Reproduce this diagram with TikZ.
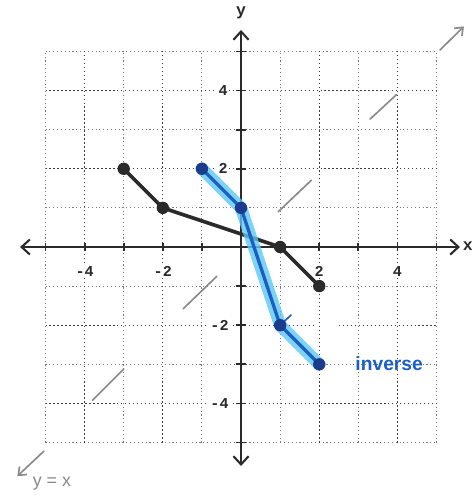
\documentclass[tikz,border=0pt]{standalone}
\usepackage{fontspec}
\setmainfont{Liberation Sans}
\newfontfamily\tickfont{Liberation Mono}
\usetikzlibrary{arrows.meta}
\definecolor{axiscol}{HTML}{2A2A2A}
\definecolor{gridmajor}{HTML}{3A3A3A}
\definecolor{gridminor}{HTML}{7A7A7A}
\definecolor{glow}{HTML}{5CC8F2}
\definecolor{invblue}{HTML}{1B5FC4}
\definecolor{invdot}{HTML}{1B3C8C}
\definecolor{refgray}{HTML}{8A8A8A}
\tikzset{
  majorgrid/.style={gridmajor, line width=0.9pt, dotted},
  minorgrid/.style={gridminor, line width=0.8pt, dotted},
  axisline/.style={axiscol, line width=1.5pt, -{Straight Barb[length=6pt,width=11pt,line width=1.5pt]}},
  ticklab/.style={font=\tickfont\bfseries\fontsize{11}{11}\selectfont, text=axiscol, fill=white, inner sep=0.8pt},
  refline/.style={refgray, line width=1.2pt, line cap=round},
  refarrow/.style={refgray, line width=1.2pt, line cap=round, -{Straight Barb[length=5pt,width=8pt,line width=1.2pt]}},
  origline/.style={axiscol, line width=2.6pt, line cap=round, line join=round},
  origdot/.style={circle, fill=axiscol, inner sep=0pt, minimum size=9pt},
  glowline/.style={glow, opacity=0.8, line width=9pt, line cap=round, line join=round},
  invline/.style={invblue, line width=2.4pt, line cap=round, line join=round},
  invdotst/.style={circle, fill=invdot, inner sep=0pt, minimum size=9pt},
}
\begin{document}
\begin{tikzpicture}[x=1cm,y=1cm]
\useasboundingbox[fill=white] (-6.164,-6.368) rectangle (5.959,6.317);
% grid
\foreach \k in {-5,-3,-1,1,3,5}{
  \draw[minorgrid] (\k,-5) -- (\k,5);
  \draw[minorgrid] (-5,\k) -- (5,\k);
}
\foreach \k in {-4,-2,2,4}{
  \draw[majorgrid] (\k,-5) -- (\k,5);
}
\foreach \k in {-4,2,4}{
  \draw[majorgrid] (-5,\k) -- (5,\k);
}
\draw[majorgrid] (-5,-2) -- (1.85,-2);
\draw[majorgrid] (2.5,-2) -- (5,-2);
% axes
\coordinate (xl) at (-5.65,0);
\coordinate (xr) at (5.6,0);
\coordinate (yb) at (0,-5.6);
\coordinate (yt) at (0,5.55);
\draw[axisline] (0,0) -- (xl);
\draw[axisline] (0,0) -- (xr);
\draw[axisline] (0,0) -- (yb);
\draw[axisline] (0,0) -- (yt);
\foreach \k in {-5,...,5}{
  \draw[axiscol, line width=1.3pt] (\k,-0.1) -- (\k,0.1);
  \draw[axiscol, line width=1.3pt] (-0.12,\k) -- (0.12,\k);
}
\node[font=\tickfont\bfseries\fontsize{12}{12}\selectfont, text=axiscol] (ylab) at (0,5.98) {y};
\node[font=\tickfont\bfseries\fontsize{12}{12}\selectfont, text=axiscol, inner sep=0pt] (xlab) at (5.8,0.02) {x};
\foreach \k in {-4,-2,2,4}{
  \node[ticklab] (xt\k) at (\k,-0.62) {\k};
}
\node[ticklab] (yt4) at (-0.46,4) {4};
\node[ticklab] (yt2) at (-0.46,2) {2};
\node[ticklab] (ytm2) at (-0.55,-2) {-2};
\node[ticklab] (ytm4) at (-0.55,-4) {-4};
% y = x reference line pieces
\draw[refline] (-3.8,-3.92) -- (-3.0,-3.12);
\draw[refline] (-1.48,-1.58) -- (-0.62,-0.75);
\draw[refline] (0.95,0.9) -- (1.8,1.71);
\draw[refline] (3.3,3.27) -- (3.98,3.9);
\coordinate (ra1) at (5.09,5.04);
\coordinate (ra2) at (5.7,5.64);
\draw[refarrow] (ra1) -- (ra2);
\coordinate (la1) at (-5.04,-5.22);
\coordinate (la2) at (-5.72,-5.86);
\draw[refarrow] (la1) -- (la2);
\node[refgray, font=\fontsize{13}{13}\selectfont, anchor=west] (yxlab) at (-5.45,-6.04) {y = x};
% original function
\coordinate (a1) at (-3,2);
\coordinate (a2) at (-2,1);
\coordinate (a3) at (1,0);
\coordinate (a4) at (2,-1);
\draw[origline] (a1) -- (a2) -- (a3) -- (a4);
\foreach \p in {a1,a2,a3,a4}{ \node[origdot] at (\p) {}; }
% inverse
\coordinate (b1) at (-1,2);
\coordinate (b2) at (0,1);
\coordinate (b3) at (1,-2);
\coordinate (b4) at (2,-3);
\draw[glowline] (b1) -- (b2) -- (b3) -- (b4);
\draw[invline] (b1) -- (b2) -- (b3) -- (b4);
\coordinate (bm) at (1.28,-1.74);
\draw[invblue, line width=1.2pt, line cap=round] (b3) -- (bm);
\foreach \p in {b1,b2,b3,b4}{ \node[invdotst] at (\p) {}; }
\node[invblue, font=\bfseries\fontsize{14}{14}\selectfont, anchor=west, inner sep=0pt] (invlab) at (2.92,-2.97) {inverse};
\end{tikzpicture}
\end{document}
